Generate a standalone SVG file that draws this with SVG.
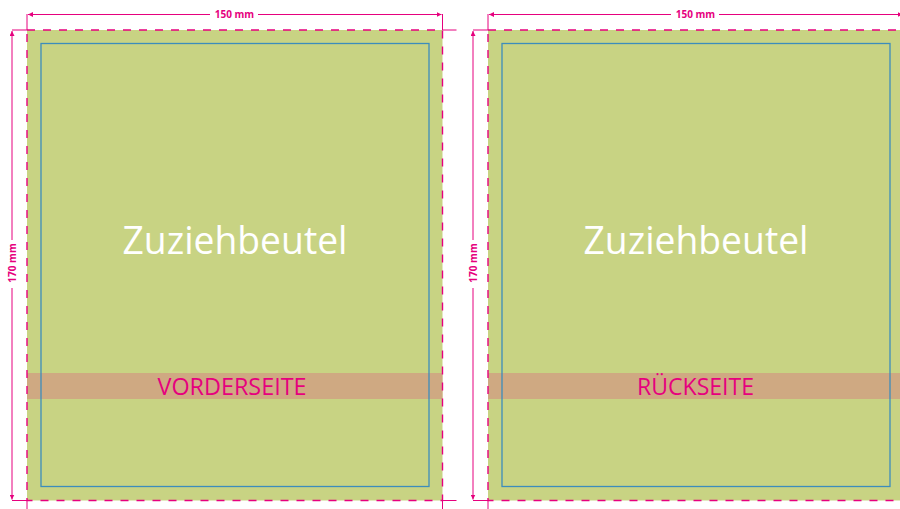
<svg xmlns="http://www.w3.org/2000/svg" width="900" height="509" viewBox="0 0 900 509">
<defs>
<style>
.bg{fill:#C8D383;}
.band{fill:#CFA982;}
.trim{fill:none;stroke:#3C8DBC;stroke-width:1.3;}
.bleed{fill:none;stroke:#E6007E;stroke-width:1.4;stroke-dasharray:8 8;}
.dim{fill:none;stroke:#E6007E;stroke-width:1;}
.ext{fill:none;stroke:#E6007E;stroke-width:1;}
.dimtxt{font-family:"Open Sans","Liberation Sans",sans-serif;font-weight:bold;font-size:10px;fill:#E6007E;text-anchor:middle;}
.title{font-family:"Open Sans","Liberation Sans",sans-serif;font-size:39px;fill:#FFFFFF;text-anchor:middle;}
.side{font-family:"Open Sans","Liberation Sans",sans-serif;font-size:24px;fill:#E6007E;text-anchor:middle;}
</style>
<marker id="ah" viewBox="0 0 10 10" refX="10" refY="5" markerWidth="5" markerHeight="5" orient="auto-start-reverse" markerUnits="userSpaceOnUse">
<path d="M0,0 L10,5 L0,10 z" fill="#E6007E"/>
</marker>
</defs>

<g id="front">
<rect class="bg" x="27" y="30" width="415.5" height="470.5"/>
<rect class="band" x="27" y="373" width="415.5" height="26"/>
<rect class="trim" x="41" y="43.5" width="388" height="443"/>
<rect class="bleed" x="27" y="30" width="415.5" height="470.5"/>
<text class="title" x="235" y="254" textLength="225" lengthAdjust="spacingAndGlyphs">Zuziehbeutel</text>
<text class="side" x="232" y="395" textLength="149" lengthAdjust="spacingAndGlyphs">VORDERSEITE</text>
</g>

<g id="back">
<rect class="bg" x="488" y="30" width="415.5" height="470.5"/>
<rect class="band" x="488" y="373" width="415.5" height="26"/>
<rect class="trim" x="502" y="43.5" width="388" height="443"/>
<rect class="bleed" x="488" y="30" width="415.5" height="470.5"/>
<text class="title" x="696" y="254" textLength="225" lengthAdjust="spacingAndGlyphs">Zuziehbeutel</text>
<text class="side" x="695.5" y="395" textLength="117" lengthAdjust="spacingAndGlyphs">RÜCKSEITE</text>
</g>

<g id="connectors">
<!-- extension lines front -->
<line class="ext" x1="27" y1="14" x2="27" y2="30"/>
<line class="ext" x1="442.5" y1="14" x2="442.5" y2="30"/>
<line class="ext" x1="12" y1="30" x2="27" y2="30"/>
<line class="ext" x1="12" y1="500.5" x2="27" y2="500.5"/>
<line class="ext" x1="442.5" y1="30" x2="456.5" y2="30"/>
<line class="ext" x1="442.5" y1="500.5" x2="456.5" y2="500.5"/>
<line class="ext" x1="27" y1="500.5" x2="27" y2="509"/>
<line class="ext" x1="442.5" y1="500.5" x2="442.5" y2="509"/>
<!-- extension lines back -->
<line class="ext" x1="488" y1="14" x2="488" y2="30"/>
<line class="ext" x1="473" y1="30" x2="488" y2="30"/>
<line class="ext" x1="473" y1="500.5" x2="488" y2="500.5"/>
<line class="ext" x1="488" y1="500.5" x2="488" y2="509"/>
<!-- dimension lines front -->
<line class="dim" x1="210" y1="14.5" x2="28" y2="14.5" marker-end="url(#ah)"/>
<line class="dim" x1="258" y1="14.5" x2="441.5" y2="14.5" marker-end="url(#ah)"/>
<line class="dim" x1="12" y1="240" x2="12" y2="31" marker-end="url(#ah)"/>
<line class="dim" x1="12" y1="288" x2="12" y2="499.5" marker-end="url(#ah)"/>
<!-- dimension lines back -->
<line class="dim" x1="671" y1="14.5" x2="489" y2="14.5" marker-end="url(#ah)"/>
<line class="dim" x1="719" y1="14.5" x2="902.5" y2="14.5" marker-end="url(#ah)"/>
<line class="dim" x1="473" y1="240" x2="473" y2="31" marker-end="url(#ah)"/>
<line class="dim" x1="473" y1="288" x2="473" y2="499.5" marker-end="url(#ah)"/>
</g>

<g id="labels">
<text class="dimtxt" x="234.5" y="18">150 mm</text>
<text class="dimtxt" x="695.5" y="18">150 mm</text>
<text class="dimtxt" transform="translate(15.5,263) rotate(-90)">170 mm</text>
<text class="dimtxt" transform="translate(476.5,263) rotate(-90)">170 mm</text>
</g>
</svg>
